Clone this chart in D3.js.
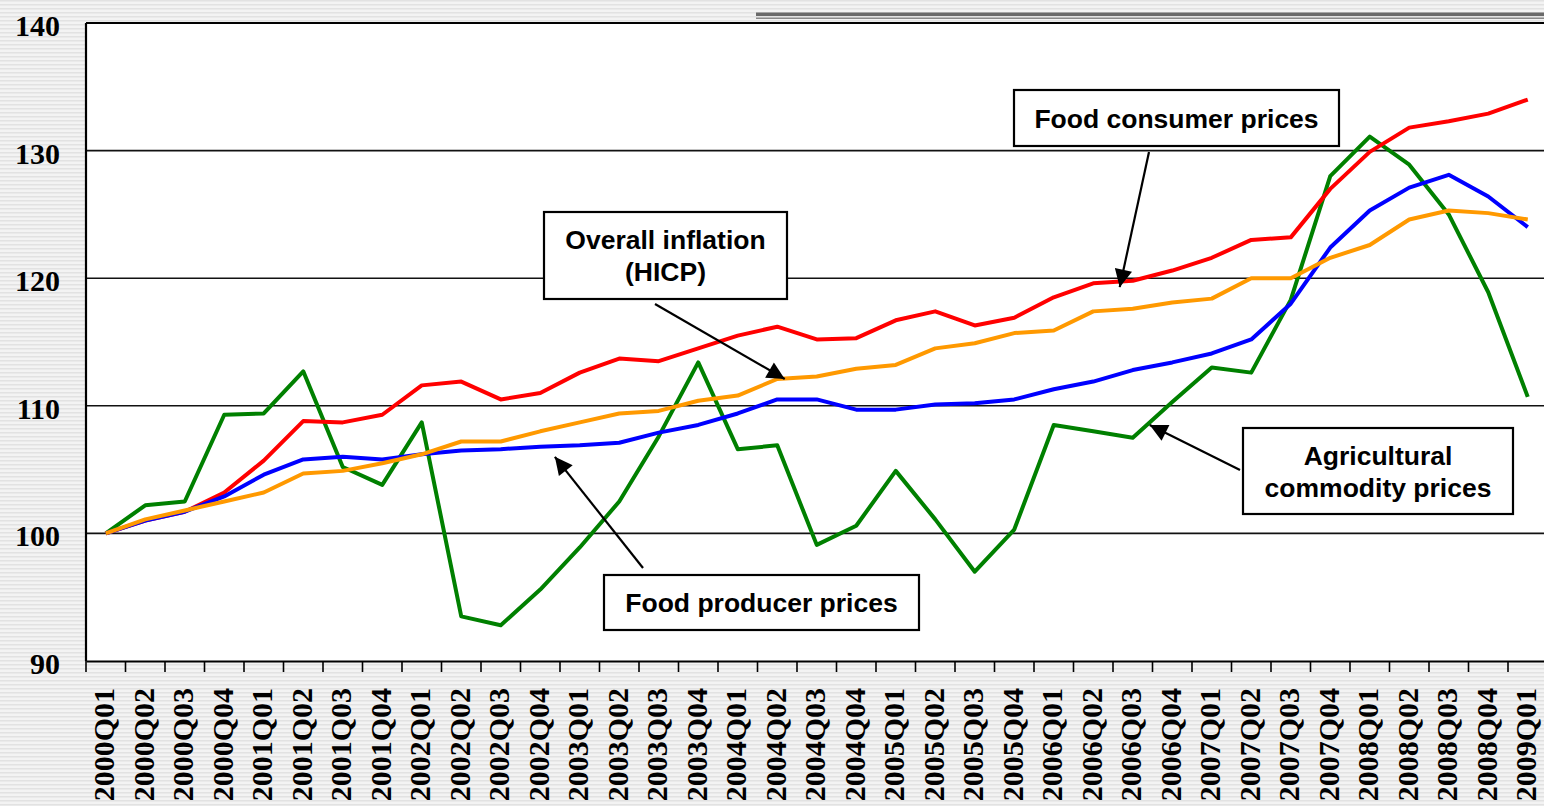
<!DOCTYPE html>
<html>
<head>
<meta charset="utf-8">
<script src="https://cdn.jsdelivr.net/npm/d3@7"></script>
<style>
  html, body { margin: 0; padding: 0; overflow: hidden; }
  svg { display: block; }
</style>
</head>
<body>
<svg id="chart" width="1544" height="806"></svg>
<script>
// ---------------- DATA ----------------
const quarters = [
  "2000Q01","2000Q02","2000Q03","2000Q04",
  "2001Q01","2001Q02","2001Q03","2001Q04",
  "2002Q01","2002Q02","2002Q03","2002Q04",
  "2003Q01","2003Q02","2003Q03","2003Q04",
  "2004Q01","2004Q02","2004Q03","2004Q04",
  "2005Q01","2005Q02","2005Q03","2005Q04",
  "2006Q01","2006Q02","2006Q03","2006Q04",
  "2007Q01","2007Q02","2007Q03","2007Q04",
  "2008Q01","2008Q02","2008Q03","2008Q04",
  "2009Q01"
];
const agriculturalCommodity = [
  100.0, 102.2, 102.5, 109.3, 109.4, 112.7, 105.2, 103.8,
  108.7, 93.5, 92.8, 95.6, 98.9, 102.5, 107.6, 113.4,
  106.6, 106.9, 99.1, 100.6, 104.9, 101.1, 97.0, 100.3,
  108.5, 108.0, 107.5, 110.3, 113.0, 112.6, 118.3, 128.0,
  131.1, 128.9, 125.0, 118.9, 110.7
];
const foodConsumer = [
  100.0, 101.0, 101.7, 103.2, 105.7, 108.8, 108.7, 109.3,
  111.6, 111.9, 110.5, 111.0, 112.6, 113.7, 113.5, 114.5,
  115.5, 116.2, 115.2, 115.3, 116.7, 117.4, 116.3, 116.9,
  118.5, 119.6, 119.8, 120.6, 121.6, 123.0, 123.2, 127.0,
  129.9, 131.8, 132.3, 132.9, 134.0
];
const foodProducer = [
  100.0, 101.0, 101.7, 102.9, 104.6, 105.8, 106.0, 105.8,
  106.2, 106.5, 106.6, 106.8, 106.9, 107.1, 107.9, 108.5,
  109.4, 110.5, 110.5, 109.7, 109.7, 110.1, 110.2, 110.5,
  111.3, 111.9, 112.8, 113.4, 114.1, 115.2, 118.0, 122.4,
  125.3, 127.1, 128.1, 126.4, 124.0
];
const overallHICP = [
  100.0, 101.1, 101.8, 102.5, 103.2, 104.7, 104.9, 105.5,
  106.2, 107.2, 107.2, 108.0, 108.7, 109.4, 109.6, 110.4,
  110.8, 112.1, 112.3, 112.9, 113.2, 114.5, 114.9, 115.7,
  115.9, 117.4, 117.6, 118.1, 118.4, 120.0, 120.0, 121.6,
  122.6, 124.6, 125.3, 125.1, 124.6
];
const yTicks = [90, 100, 110, 120, 130, 140];

// draw order: first drawn = bottom
const seriesList = [
  { name: "Agricultural commodity prices", values: agriculturalCommodity, color: "#008000" },
  { name: "Food consumer prices", values: foodConsumer, color: "#ff0000" },
  { name: "Food producer prices", values: foodProducer, color: "#0000ff" },
  { name: "Overall inflation (HICP)", values: overallHICP, color: "#ff9900" }
];

// annotations: tip anchored in data space (fractional category index, value)
const annotations = [
  { lines: ["Food consumer prices"], box: [1014, 90, 325, 56], tail: [1149, 152], tipIndex: 25.67, tipValue: 119.3 },
  { lines: ["Overall inflation", "(HICP)"], box: [544, 212, 243, 87], tail: [655, 304], tipIndex: 17.19, tipValue: 112.1 },
  { lines: ["Food producer prices"], box: [604, 575, 315, 55], tail: [643, 568], tipIndex: 11.37, tipValue: 106.0 },
  { lines: ["Agricultural", "commodity prices"], box: [1243, 428, 270, 86], tail: [1240, 470], tipIndex: 26.43, tipValue: 108.5 }
];

// ---------------- LAYOUT ----------------
const W = 1544, H = 806;
const plot = { left: 86, top: 23, bottom: 661, right: 1547.5 };

const svg = d3.select("#chart");
const defs = svg.append("defs");

// striped background pattern
const pat = defs.append("pattern")
  .attr("id", "stripes").attr("patternUnits", "userSpaceOnUse")
  .attr("width", 8).attr("height", 4);
pat.append("rect").attr("width", 8).attr("height", 4).attr("fill", "#f3f3f3");
pat.append("rect").attr("y", 0).attr("width", 8).attr("height", 1.5).attr("fill", "#e2e2e2");

defs.append("marker")
  .attr("id", "arrow").attr("viewBox", "0 0 10 10")
  .attr("refX", 10).attr("refY", 5)
  .attr("markerWidth", 9).attr("markerHeight", 8)
  .attr("markerUnits", "strokeWidth")
  .attr("orient", "auto")
  .append("path").attr("d", "M0,0 L10,5 L0,10 z").attr("fill", "#000");

svg.append("rect").attr("width", W).attr("height", H).attr("fill", "url(#stripes)");

// decorative double line at top right
svg.append("rect").attr("x", 756).attr("y", 12.5).attr("width", W - 756).attr("height", 3.5).attr("fill", "#6a6a6a");
svg.append("rect").attr("x", 756).attr("y", 17.5).attr("width", W - 756).attr("height", 1.5).attr("fill", "#8a8a8a");

// scales
const x = d3.scaleBand().domain(quarters).range([plot.left, plot.right]).padding(0);
const y = d3.scaleLinear().domain([90, 140]).range([plot.bottom, plot.top]);
const step = x.bandwidth();
const xi = i => plot.left + step * (i + 0.5);

// plot area
svg.append("rect")
  .attr("x", plot.left).attr("y", plot.top)
  .attr("width", plot.right - plot.left).attr("height", plot.bottom - plot.top)
  .attr("fill", "#ffffff");

// gridlines
svg.append("g").selectAll("line")
  .data(yTicks.filter(t => t > 90 && t < 140))
  .join("line")
  .attr("x1", plot.left).attr("x2", plot.right)
  .attr("y1", d => y(d)).attr("y2", d => y(d))
  .attr("stroke", "#111").attr("stroke-width", 1.6);

// frame: top, left, bottom
svg.append("line").attr("x1", plot.left).attr("x2", plot.right).attr("y1", y(140)).attr("y2", y(140))
  .attr("stroke", "#000").attr("stroke-width", 2.2);
svg.append("line").attr("x1", plot.left).attr("x2", plot.left).attr("y1", plot.top).attr("y2", plot.bottom)
  .attr("stroke", "#000").attr("stroke-width", 2.2);

// x axis
const xAxis = svg.append("g")
  .attr("transform", `translate(0,${plot.bottom})`)
  .call(d3.axisBottom(x).tickSize(0).tickFormat(""));
xAxis.select(".domain").attr("stroke", "#000").attr("stroke-width", 2.2);
// tick marks between categories
xAxis.append("g").selectAll("line")
  .data(d3.range(quarters.length))
  .join("line")
  .attr("x1", i => x(quarters[i])).attr("x2", i => x(quarters[i]))
  .attr("y1", 0).attr("y2", 11)
  .attr("stroke", "#000").attr("stroke-width", 1.6);

// x labels
svg.append("g").selectAll("text")
  .data(quarters)
  .join("text")
  .attr("transform", d => `translate(${x(d) + step / 2 + 8.5},${688}) rotate(-90)`)
  .attr("text-anchor", "end")
  .attr("font-family", "'Liberation Serif', 'Times New Roman', serif")
  .attr("font-weight", "bold")
  .attr("font-size", 30)
  .attr("fill", "#000")
  .text(d => d);

// y labels
const yAxis = svg.append("g")
  .attr("transform", `translate(${plot.left},0)`)
  .call(d3.axisLeft(y).tickValues(yTicks).tickSize(0).tickPadding(26).tickFormat(d3.format("d")));
yAxis.select(".domain").remove();
yAxis.selectAll("text")
  .attr("font-family", "'Liberation Serif', 'Times New Roman', serif")
  .attr("font-weight", "bold")
  .attr("font-size", 30)
  .attr("fill", "#000")
  .attr("dy", "0.38em")
  .attr("transform", "translate(0,1)");

// lines
const lineGen = d3.line()
  .x((d, i) => x(quarters[i]) + step / 2)
  .y(d => y(d));

svg.append("g").selectAll("path")
  .data(seriesList)
  .join("path")
  .attr("d", s => lineGen(s.values))
  .attr("fill", "none")
  .attr("stroke", s => s.color)
  .attr("stroke-width", 4)
  .attr("stroke-linejoin", "round")
  .attr("stroke-linecap", "butt");

// annotations
const ann = svg.append("g");
annotations.forEach(a => {
  const [bx, by, bw, bh] = a.box;
  ann.append("line")
    .attr("x1", a.tail[0]).attr("y1", a.tail[1])
    .attr("x2", xi(a.tipIndex)).attr("y2", y(a.tipValue))
    .attr("stroke", "#000").attr("stroke-width", 2.2)
    .attr("marker-end", "url(#arrow)");
  ann.append("rect")
    .attr("x", bx).attr("y", by).attr("width", bw).attr("height", bh)
    .attr("fill", "#fff").attr("stroke", "#000").attr("stroke-width", 2.2);
  const lh = 32;
  const cy = by + bh / 2;
  const n = a.lines.length;
  a.lines.forEach((t, k) => {
    ann.append("text")
      .attr("x", bx + bw / 2)
      .attr("y", cy + (k - (n - 1) / 2) * lh)
      .attr("dy", "0.36em")
      .attr("text-anchor", "middle")
      .attr("font-family", "'Liberation Sans', Arial, sans-serif")
      .attr("font-weight", "bold")
      .attr("font-size", 26.5)
      .attr("fill", "#000")
      .text(t);
  });
});
</script>
</body>
</html>
